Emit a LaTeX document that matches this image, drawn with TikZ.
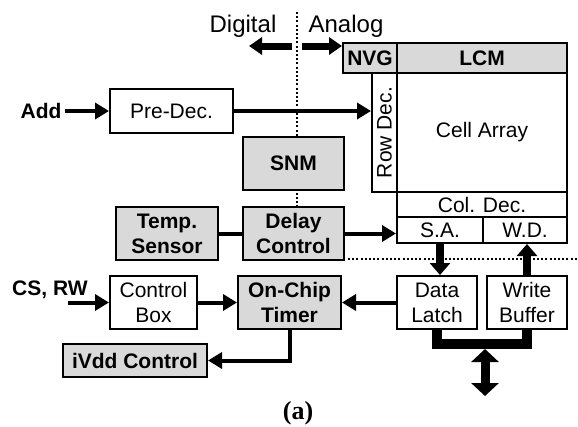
\documentclass[tikz,border=0pt]{standalone}
\usepackage{fontspec}
\setmainfont{Liberation Sans}
\newfontfamily\capfont{Liberation Serif}
\usetikzlibrary{arrows.meta}

\tikzset{
  blk/.style={draw, line width=2pt, inner sep=1pt, align=center,
    font=\fontsize{21}{25}\selectfont},
  gblk/.style={blk, fill=black!15, font=\fontsize{21}{25}\selectfont\bfseries},
  lbl/.style={font=\fontsize{21}{25}\selectfont\bfseries},
  sig/.style={line width=4pt, -{Triangle[length=14pt, width=16pt]}},
  fat/.style={line width=8pt, -{Triangle[length=12pt, width=20pt]}},
  sep/.style={line width=2pt, dash pattern=on 2pt off 2.2pt},
}

\begin{document}
\begin{tikzpicture}[x=1pt, y=-1pt]
  \useasboundingbox (0,0) rectangle (578,426);
  % digital / analog border
  \draw[sep] (297,12) -- (297,207);
  \draw[sep] (348,259) -- (578,259);

  \foreach \nm/\cx/\cy/\w/\h/\txt in {
      predec/171.5/111/123/44/Pre-Dec.,
      control/153.5/302.5/87/53/Control\\Box,
      datalatch/437/302.5/80/53/Data\\Latch,
      writebuf/527/302.5/80/53/Write\\Buffer,
      cell/482/132.5/170/119/Cell Array,
      coldec/482/204.5/170/25/Col. Dec.,
      sa/440/230/86/26/S.A.,
      wd/525/230/84/26/W.D.}
    \node[blk, minimum width=\w pt, minimum height=\h pt] (\nm) at (\cx,\cy) {\txt};
  \node[blk, rotate=90, minimum width=119pt, minimum height=25pt]
    (rowdec) at (384.5,132.5) {Row Dec.};

  \foreach \nm/\cx/\cy/\w/\h/\txt in {
      nvg/370/58/54/30/NVG,
      lcm/482/58/170/30/LCM,
      snm/293.5/163.5/101/53/SNM,
      temp/167/233.5/102/53/Temp.\\Sensor,
      delay/293.5/233.5/101/53/Delay\\Control,
      timer/289.5/302.5/103/53/On-Chip\\Timer,
      ivdd/135/360.5/144/33/iVdd Control}
    \node[gblk, minimum width=\w pt, minimum height=\h pt] (\nm) at (\cx,\cy) {\txt};

  % labels
  \node[font=\fontsize{24}{28}\selectfont, anchor=base] (dig) at (243,32) {Digital};
  \node[font=\fontsize{24}{28}\selectfont, anchor=base] (ana) at (346,32) {Analog};
  \node[lbl] (add) at (41,111) {Add};
  \node[lbl, anchor=base west, inner sep=0pt] (csrw) at (12,295) {CS, RW};
  \node[font=\fontsize{26}{30}\selectfont\capfont\bfseries, anchor=base]
    (cap) at (298,419) {(a)};

  \coordinate (dg1) at (292,46);
  \coordinate (dg2) at (249,46);
  \coordinate (an1) at (302,46);
  \coordinate (csin) at (68,302.5);
  \coordinate (busmid) at (485,344);
  \coordinate (bustop) at (485,349);
  \coordinate (busend) at (485,396);

  % connections
  \draw[line width=7pt, -{Triangle[length=13pt, width=17pt]}] (dg1) -- (dg2);
  \draw[line width=7pt, -{Triangle[length=13pt, width=17pt]}] (an1) -- (an1 -| nvg.west);
  \draw[sig] (add) -- (predec);
  \draw[sig] (predec.east) -- (predec.east -| rowdec.north);
  \draw[line width=4pt] (temp) -- (delay);
  \draw[sig] (delay.east) -- (delay.east -| sa.west);
  \draw[sig] (csin) -- (control.west);
  \draw[sig] (control) -- (timer);
  \draw[sig] (datalatch) -- (timer);
  \draw[sig] (timer.south) |- (ivdd.east);
  \draw[fat] (sa.south) -- (sa.south |- datalatch.north);
  \draw[fat] (writebuf.north) -- (writebuf.north |- wd.south);
  \draw[line width=10pt] (datalatch.south) |- (busmid) -| (writebuf.south);
  \draw[line width=9pt, {Triangle[length=13pt, width=27pt]}-{Triangle[length=13pt, width=27pt]}]
    (bustop) -- (busend);
\end{tikzpicture}
\end{document}
